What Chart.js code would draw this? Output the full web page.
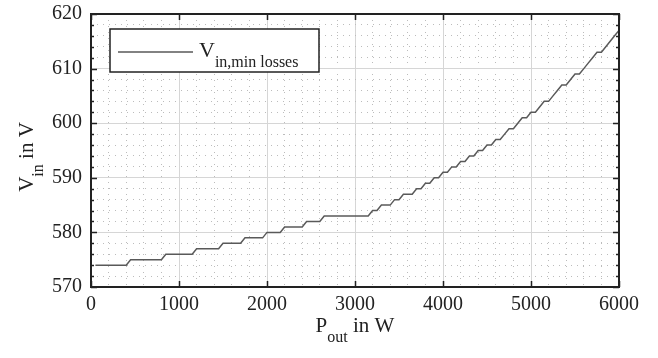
<!DOCTYPE html>
<html>
<head>
<meta charset="utf-8">
<script src="https://cdn.jsdelivr.net/npm/chart.js@4.4.0/dist/chart.umd.min.js"></script>
<style>
  html, body { margin: 0; padding: 0; background: #fff; }
  #wrap { width: 658px; height: 358px; }
</style>
</head>
<body>
<div id="wrap"><canvas id="chart" width="658" height="358"></canvas></div>
<script>
// corner points of the stepped curve
const powerW = [50, 400, 450, 800, 850, 1150, 1200, 1450, 1500, 1700, 1750, 1950, 2000, 2150,
  2200, 2400, 2450, 2600, 2650, 3150, 3200, 3250, 3300, 3400, 3450, 3500, 3550, 3650, 3700,
  3750, 3800, 3850, 3900, 3950, 4000, 4050, 4100, 4150, 4200, 4250, 4300, 4350, 4400, 4450,
  4500, 4550, 4600, 4650, 4700, 4750, 4800, 4850, 4900, 4950, 5000, 5050, 5100, 5150, 5200,
  5250, 5300, 5350, 5400, 5450, 5500, 5550, 5600, 5650, 5700, 5750, 5800, 5850, 5900, 5950, 6000];
const vinV = [574, 574, 575, 575, 576, 576, 577, 577, 578, 578, 579, 579, 580, 580,
  581, 581, 582, 582, 583, 583, 584, 584, 585, 585, 586, 586, 587, 587, 588,
  588, 589, 589, 590, 590, 591, 591, 592, 592, 593, 593, 594, 594, 595, 595,
  596, 596, 597, 597, 598, 599, 599, 600, 601, 601, 602, 602, 603, 604, 604,
  605, 606, 607, 607, 608, 609, 609, 610, 611, 612, 613, 613, 614, 615, 616, 617];

const xMajor = [0, 1000, 2000, 3000, 4000, 5000, 6000];
const yMajor = [570, 580, 590, 600, 610, 620];
const xTitle = [["P", false], ["out", true], [" in W", false]];
const yTitle = [["V", false], ["in", true], [" in V", false]];
const legendText = [["V", false], ["in,min losses", true]];

const FONT = "'Liberation Serif', 'Times New Roman', serif";
const INK = "#222";
const LINE = "#595959";

const isMajor = (axis, v) => (axis === "x" ? xMajor : yMajor).includes(v);

// text with subscripts, MATLAB style
function drawParts(ctx, parts, x, y, align, big, small, drop) {
  const w = parts.map(([t, sub]) => {
    ctx.font = (sub ? small : big) + "px " + FONT;
    return ctx.measureText(t).width;
  });
  let cx = align === "center" ? x - w.reduce((a, b) => a + b, 0) / 2 : x;
  ctx.textAlign = "left";
  ctx.textBaseline = "alphabetic";
  parts.forEach(([t, sub], i) => {
    ctx.font = (sub ? small : big) + "px " + FONT;
    ctx.fillText(t, cx, sub ? y + drop : y);
    cx += w[i];
  });
}

const matlabFrame = {
  id: "matlabFrame",
  afterDatasetsDraw(chart) {
    const { ctx, chartArea: a, scales } = chart;
    ctx.save();
    ctx.strokeStyle = INK;
    ctx.lineWidth = 1.5;
    ctx.beginPath();
    scales.x.ticks.forEach(t => {
      if (!isMajor("x", t.value)) return;
      const px = Math.round(scales.x.getPixelForValue(t.value)) + 0.5;
      ctx.moveTo(px, a.bottom); ctx.lineTo(px, a.bottom - 6);
      ctx.moveTo(px, a.top); ctx.lineTo(px, a.top + 6);
    });
    scales.y.ticks.forEach(t => {
      const len = isMajor("y", t.value) ? 6 : 3;
      const py = Math.round(scales.y.getPixelForValue(t.value)) + 0.5;
      ctx.moveTo(a.left, py); ctx.lineTo(a.left + len, py);
      ctx.moveTo(a.right, py); ctx.lineTo(a.right - len, py);
    });
    ctx.stroke();
    ctx.lineWidth = 2;
    ctx.strokeRect(a.left, a.top, a.right - a.left, a.bottom - a.top);
    ctx.restore();
  },
  afterDraw(chart) {
    const { ctx, chartArea: a } = chart;
    ctx.save();
    ctx.fillStyle = INK;
    // axis titles
    drawParts(ctx, xTitle, (a.left + a.right) / 2, 332, "center", 21, 16, 10);
    ctx.translate(33, 157);
    ctx.rotate(-Math.PI / 2);
    drawParts(ctx, yTitle, 0, 0, "center", 21, 16, 10);
    ctx.restore();

    // legend box
    ctx.save();
    ctx.fillStyle = "#fff";
    ctx.strokeStyle = INK;
    ctx.lineWidth = 1.5;
    ctx.fillRect(110, 29, 209, 43);
    ctx.strokeRect(110, 29, 209, 43);
    ctx.strokeStyle = LINE;
    ctx.lineWidth = 1.5;
    ctx.beginPath();
    ctx.moveTo(118, 52); ctx.lineTo(193, 52);
    ctx.stroke();
    ctx.fillStyle = INK;
    drawParts(ctx, legendText, 199, 57, "left", 22, 16, 10);
    ctx.restore();
  }
};

const gridColor = axis => c => (c.tick && isMajor(axis, c.tick.value)) ? "#d6d6d6" : "#bcbcbc";
const gridDash = axis => c => (c.tick && !isMajor(axis, c.tick.value)) ? [1, 5] : [];

new Chart(document.getElementById("chart"), {
  type: "line",
  data: {
    datasets: [{
      label: "V in,min losses",
      data: powerW.map((p, i) => ({ x: p, y: vinV[i] })),
      borderColor: LINE,
      borderWidth: 1.5,
      pointRadius: 0,
      tension: 0,
      fill: false
    }]
  },
  options: {
    responsive: false,
    animation: false,
    devicePixelRatio: 1,
    layout: { padding: { left: 0, right: 39, top: 14, bottom: 0 } },
    plugins: { legend: { display: false }, tooltip: { enabled: false } },
    scales: {
      x: {
        type: "linear",
        min: 0,
        max: 6000,
        ticks: {
          stepSize: 200,
          autoSkip: false,
          maxRotation: 0,
          padding: 6,
          color: INK,
          font: { family: FONT, size: 20 },
          callback: v => isMajor("x", v) ? String(v) : ""
        },
        grid: { drawTicks: false, color: gridColor("x"), lineWidth: 1 },
        border: { display: false, dash: gridDash("x") },
        afterFit: s => { s.height = 71; s.paddingLeft = 0; s.paddingRight = 0; }
      },
      y: {
        type: "linear",
        min: 570,
        max: 620,
        ticks: {
          stepSize: 2,
          autoSkip: false,
          padding: 9,
          color: INK,
          font: { family: FONT, size: 20 },
          callback: v => isMajor("y", v) ? String(v) : ""
        },
        grid: { drawTicks: false, color: gridColor("y"), lineWidth: 1 },
        border: { display: false, dash: gridDash("y") },
        afterFit: s => { s.width = 91; s.paddingTop = 0; s.paddingBottom = 0; }
      }
    }
  },
  plugins: [matlabFrame]
});
</script>
</body>
</html>
